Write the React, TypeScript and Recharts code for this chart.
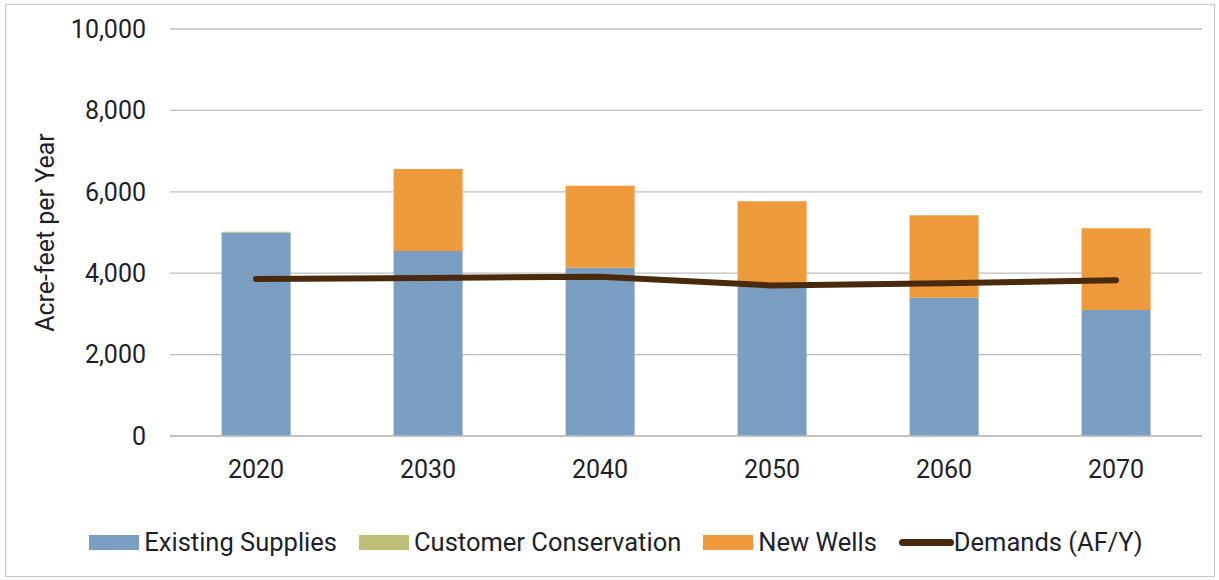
import React from "react";
import { Bar, ComposedChart, CartesianGrid, Legend, Line, XAxis, YAxis } from "recharts";

const years = ["2020", "2030", "2040", "2050", "2060", "2070"];
const existingSupplies = [5000, 4545, 4135, 3660, 3398, 3096];
const customerConservation = [20, 0, 0, 0, 0, 0];
const newWells = [0, 2015, 2015, 2106, 2025, 2007];
const demands = [3857, 3885, 3914, 3700, 3751, 3825];
const yTicks = [0, 2000, 4000, 6000, 8000, 10000];

const legendItems = [
  { name: "Existing Supplies", color: "#7a9ec2", type: "rect" },
  { name: "Customer Conservation", color: "#bdbf78", type: "rect" },
  { name: "New Wells", color: "#ee9a3a", type: "rect" },
  { name: "Demands (AF/Y)", color: "#4a2a0c", type: "line" },
];

const data = years.map((year, i) => ({
  year,
  existing: existingSupplies[i],
  conservation: customerConservation[i],
  wells: newWells[i],
  demand: demands[i],
}));

const font = "Roboto, 'Noto Sans', sans-serif";
const textColor = "#1f1f2a";

function ChartLegend() {
  return (
    <div style={{ display: "flex", justifyContent: "center", alignItems: "center", fontFamily: font, fontSize: 25.5, color: textColor, height: 30, paddingLeft: 13 }}>
      {legendItems.map((item, i) => (
        <div key={item.name} style={{ display: "flex", alignItems: "center", marginRight: i < legendItems.length - 1 ? 22 : 0 }}>
          {item.type === "rect" ? (
            <div style={{ width: 50, height: 15, background: item.color, marginRight: 5 }} />
          ) : (
            <div style={{ width: 55, height: 7, borderRadius: 3.5, background: item.color, marginRight: 0 }} />
          )}
          <span>{item.name}</span>
        </div>
      ))}
    </div>
  );
}

function YLabel({ viewBox }: any) {
  const cy = viewBox.y + viewBox.height / 2;
  return (
    <text x={45} y={cy} transform={`rotate(-90, 45, ${cy})`} textAnchor="middle" dominantBaseline="central" fontFamily={font} fontSize={25} fill={textColor}>
      Acre-feet per Year
    </text>
  );
}

export default function App() {
  return (
    <div style={{ position: "absolute", left: 0, top: 0, width: 1219, height: 580, background: "#fff" }}>
      <div style={{ position: "absolute", left: 5, top: 4, width: 1208, height: 571, border: "1px solid #c9c9c9" }} />
      <ComposedChart width={1219} height={580} data={data} margin={{ top: 29, right: 17, left: 0, bottom: 84 }} barCategoryGap="30%">
        <CartesianGrid vertical={false} stroke="#bfbfbf" strokeWidth={1.3} />
        <XAxis
          dataKey="year"
          height={30}
          axisLine={{ stroke: "#bfbfbf", strokeWidth: 1.3 }}
          tickLine={false}
          tickSize={0}
          tickMargin={24}
          tick={{ fontFamily: font, fontSize: 25, fill: textColor }}
        />
        <YAxis
          width={170}
          domain={[0, 10000]}
          ticks={yTicks}
          axisLine={false}
          tickLine={false}
          tickSize={0}
          tickMargin={24}
          tickFormatter={(v: number) => v.toLocaleString("en-US")}
          tick={{ fontFamily: font, fontSize: 25, fill: textColor }}
          label={<YLabel />}
        />
        <Bar dataKey="existing" name="Existing Supplies" stackId="a" fill="#7a9ec2" isAnimationActive={false} />
        <Bar dataKey="conservation" name="Customer Conservation" stackId="a" fill="#bdbf78" isAnimationActive={false} />
        <Bar dataKey="wells" name="New Wells" stackId="a" fill="#ee9a3a" isAnimationActive={false} />
        <Line dataKey="demand" name="Demands (AF/Y)" type="linear" stroke="#4a2a0c" strokeWidth={6} strokeLinecap="round" dot={false} activeDot={false} isAnimationActive={false} />
        <Legend content={<ChartLegend />} height={0} wrapperStyle={{ position: "absolute", top: 527, left: 0, width: 1219, height: 30, bottom: "auto" }} />
      </ComposedChart>
    </div>
  );
}
